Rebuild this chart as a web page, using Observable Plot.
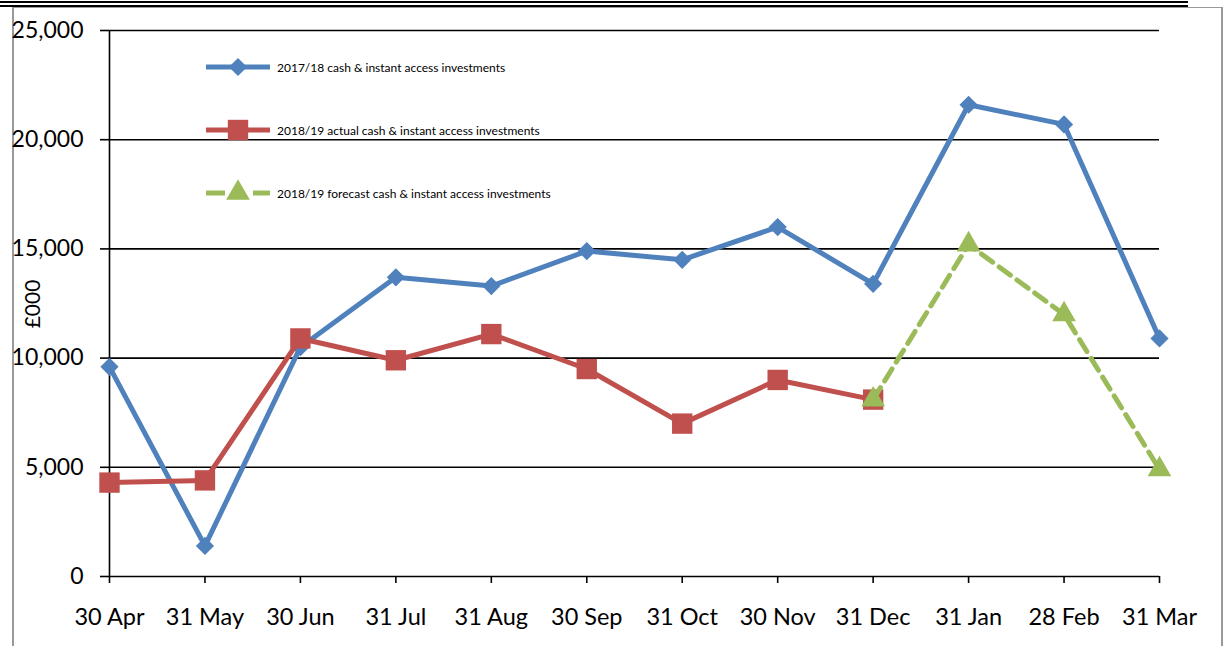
<!DOCTYPE html>
<html>
<head>
<meta charset="utf-8">
<script src="https://cdn.jsdelivr.net/npm/d3@7"></script>
<script src="https://cdn.jsdelivr.net/npm/@observablehq/plot@0.6"></script>
<style>
  html, body { margin: 0; padding: 0; background: #fff; }
  #page { position: relative; width: 1226px; height: 646px; overflow: hidden; font-family: Lato, "Open Sans", sans-serif; }
  #chart { position: absolute; left: 0; top: 0; }
  .hl { position: absolute; background: #000; }
  .gl { position: absolute; background: #999; }
  #ylabel { position: absolute; left: 31px; top: 304px; transform: translate(-50%, -50%) rotate(-90deg); font-size: 21px; color: #000; white-space: nowrap; line-height: 1; }
  #legend { position: absolute; left: 0; top: 0; }
  .leg { position: absolute; left: 277px; font-size: 12px; color: #000; transform: translateY(-50%); white-space: nowrap; }
</style>
</head>
<body>
<div id="page">
  <div class="hl" style="left:0;top:1px;width:1188px;height:2px"></div>
  <div class="hl" style="left:0;top:5px;width:1188px;height:1.5px"></div>
  <div class="gl" style="left:12px;top:7px;width:1211px;height:1px"></div>
  <div class="gl" style="left:12px;top:7px;width:2px;height:639px"></div>
  <div class="gl" style="left:1221px;top:7px;width:2px;height:639px"></div>
  <div id="chart"></div>
  <div id="ylabel">£000</div>
  <svg id="legend" width="600" height="220"></svg>
  <div class="leg" style="top:67px">2017/18 cash &amp; instant access investments</div>
  <div class="leg" style="top:130px">2018/19 actual cash &amp; instant access investments</div>
  <div class="leg" style="top:193px">2018/19 forecast cash &amp; instant access investments</div>
</div>
<script>
const months = ["30 Apr","31 May","30 Jun","31 Jul","31 Aug","30 Sep","31 Oct","30 Nov","31 Dec","31 Jan","28 Feb","31 Mar"];
const series1718 = [9600, 1400, 10500, 13700, 13300, 14900, 14500, 16000, 13400, 21600, 20700, 10900];
const actual1819Months = ["30 Apr","31 May","30 Jun","31 Jul","31 Aug","30 Sep","31 Oct","30 Nov","31 Dec"];
const actual1819 = [4300, 4400, 10900, 9900, 11100, 9500, 7000, 9000, 8100];
const forecastMonths = ["31 Dec","31 Jan","28 Feb","31 Mar"];
const forecast1819 = [8100, 15200, 12000, 4900];
const yTicks = [0, 5000, 10000, 15000, 20000, 25000];
const seriesNames = ["2017/18 cash & instant access investments", "2018/19 actual cash & instant access investments", "2018/19 forecast cash & instant access investments"];

const BLUE = "#4F81BD", RED = "#C0504D", GREEN = "#9BBB59";

const d1 = months.map((m, i) => ({month: m, value: series1718[i]}));
const d2 = actual1819Months.map((m, i) => ({month: m, value: actual1819[i]}));
const d3f = forecastMonths.map((m, i) => ({month: m, value: forecast1819[i]}));

const chart = Plot.plot({
  width: 1226,
  height: 646,
  marginLeft: 109,
  marginRight: 67,
  marginTop: 30,
  marginBottom: 70,
  style: {fontFamily: "Lato, 'Open Sans', sans-serif", background: "transparent", color: "#000"},
  x: {type: "point", domain: months, padding: 0, round: false},
  y: {domain: [0, 25000]},
  marks: [
    Plot.gridY(yTicks, {stroke: "#000", strokeOpacity: 1, strokeWidth: 1.6}),
    Plot.ruleX([months[0]], {y1: 0, y2: 25000, stroke: "#000", strokeWidth: 1.6}),
    Plot.axisY(yTicks, {tickFormat: d3.format(","), tickSize: 9, tickPadding: 17, fontSize: 23, label: null, stroke: "#000", strokeWidth: 1.6}),
    Plot.axisX({tickSize: 7, tickPadding: 25, fontSize: 23.5, label: null, stroke: "#000", strokeWidth: 1.6}),
    Plot.line(d1, {x: "month", y: "value", stroke: BLUE, strokeWidth: 5}),
    Plot.dot(d1, {x: "month", y: "value", symbol: "diamond2", r: 8.2, fill: BLUE, stroke: null}),
    Plot.line(d2, {x: "month", y: "value", stroke: RED, strokeWidth: 5}),
    Plot.dot(d2, {x: "month", y: "value", symbol: "square", r: 11.5, fill: RED, stroke: null}),
    Plot.line(d3f, {x: "month", y: "value", stroke: GREEN, strokeWidth: 5, strokeDasharray: "14,8"}),
    Plot.dot(d3f, {x: "month", y: "value", symbol: "triangle", r: 8.8, fill: GREEN, stroke: null})
  ]
});
document.getElementById("chart").appendChild(chart);

// legend samples
const lg = d3.select("#legend");
const colors = [BLUE, RED, GREEN];
const ys = [67, 130, 193];
const syms = [d3.symbolDiamond2, d3.symbolSquare, d3.symbolTriangle];
const sizes = [8.2, 11.5, 8.8];
seriesNames.forEach((name, i) => {
  lg.append("line").attr("x1", 206).attr("x2", 270).attr("y1", ys[i]).attr("y2", ys[i])
    .attr("stroke", colors[i]).attr("stroke-width", 5)
    .attr("stroke-dasharray", i === 2 ? "19,28" : null);
  lg.append("path").attr("d", d3.symbol(syms[i], Math.PI * sizes[i] * sizes[i])())
    .attr("transform", `translate(238,${ys[i]})`).attr("fill", colors[i]);
});
</script>
</body>
</html>
